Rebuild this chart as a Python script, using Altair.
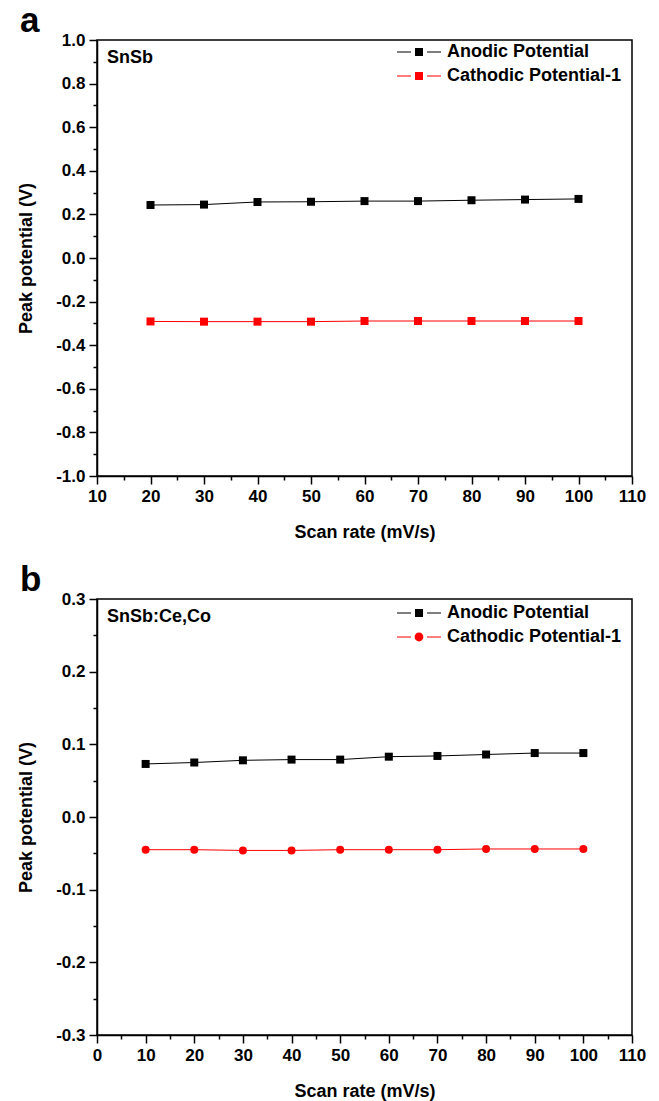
import altair as alt
import pandas as pd

FONT = "Liberation Sans"

series = ["Anodic Potential", "Cathodic Potential-1"]
series_colors = ["black", "red"]

# Panel a (SnSb)
a_rate = [20, 30, 40, 50, 60, 70, 80, 90, 100]
a_anodic = [0.243, 0.245, 0.257, 0.258, 0.261, 0.261, 0.265, 0.268, 0.271]
a_cathodic = [-0.291, -0.292, -0.292, -0.292, -0.289, -0.289, -0.289, -0.289, -0.289]

# Panel b (SnSb:Ce,Co)
b_rate = [10, 20, 30, 40, 50, 60, 70, 80, 90, 100]
b_anodic = [0.073, 0.075, 0.078, 0.079, 0.079, 0.083, 0.084, 0.086, 0.088, 0.088]
b_cathodic = [-0.045, -0.045, -0.046, -0.046, -0.045, -0.045, -0.045, -0.044, -0.044, -0.044]

# Tick positions (major + minor)
a_xticks = [10, 15, 20, 25, 30, 35, 40, 45, 50, 55, 60, 65, 70, 75, 80, 85, 90, 95, 100, 105, 110]
a_yticks = [-1.0, -0.9, -0.8, -0.7, -0.6, -0.5, -0.4, -0.3, -0.2, -0.1, 0.0,
            0.1, 0.2, 0.3, 0.4, 0.5, 0.6, 0.7, 0.8, 0.9, 1.0]
b_xticks = [0, 5, 10, 15, 20, 25, 30, 35, 40, 45, 50, 55, 60, 65, 70, 75, 80, 85, 90, 95, 100, 105, 110]
b_yticks = [-0.3, -0.25, -0.2, -0.15, -0.1, -0.05, 0.0, 0.05, 0.1, 0.15, 0.2, 0.25, 0.3]

# legend symbols: line - marker - line, drawn with fill only (1 unit = 4 px)
SQUARE_SYM = ("M-5.5,-0.14H-2V0.14H-5.5Z"
              "M-1,-1H1V1H-1Z"
              "M2,-0.14H5.5V0.14H2Z")
CIRCLE_SYM = ("M-5.5,-0.14H-2V0.14H-5.5Z"
              "M-1.1,0A1.1,1.1,0,1,0,1.1,0A1.1,1.1,0,1,0,-1.1,0Z"
              "M2,-0.14H5.5V0.14H2Z")

W, H = 535, 436


def panel(rate, anodic, cathodic, xdomain, xticks, ydomain, yticks, ymajor_test,
          cath_shape, cath_sym, sample, letter, legend_y):
    n = len(rate)
    df = pd.DataFrame({
        "rate": rate + rate,
        "value": anodic + cathodic,
        "series": [series[0]] * n + [series[1]] * n,
    })
    xmajor = "datum.value % 10 === 0"
    x = alt.X("rate:Q",
              scale=alt.Scale(domain=xdomain, nice=False, zero=False),
              axis=alt.Axis(values=xticks, title="Scan rate (mV/s)",
                            tickSize={"condition": {"test": xmajor, "value": 8}, "value": 4},
                            labelExpr=xmajor + " ? datum.label : ''",
                            labelOverlap=False, labelFlush=False, labelPadding=4,
                            titleY=47))
    y = alt.Y("value:Q",
              scale=alt.Scale(domain=ydomain, nice=False, zero=False),
              axis=alt.Axis(values=yticks, title="Peak potential (V)", format=".1f",
                            tickSize={"condition": {"test": ymajor_test, "value": 8}, "value": 4},
                            labelExpr=ymajor_test + " ? replace(datum.label, '\u2212', '-') : ''",
                            labelOverlap=False, labelFlush=False, labelPadding=4,
                            titleX=-62))
    is_anodic = "datum.value === 'Anodic Potential'"
    legend = alt.Legend(
        orient="none", legendX=313, legendY=legend_y, direction="vertical", title=None,
        padding=0, labelFont=FONT, labelFontSize=18, labelFontWeight="bold",
        labelColor="black", labelLimit=400, labelOffset=19, rowPadding=6,
        symbolSize=64, symbolStrokeWidth=0, symbolOpacity=1,
        symbolType=alt.ExprRef(expr=f"{is_anodic} ? '{SQUARE_SYM}' : '{cath_sym}'"),
        symbolFillColor=alt.ExprRef(expr=f"{is_anodic} ? 'black' : 'red'"),
        symbolStrokeColor=alt.ExprRef(expr=f"{is_anodic} ? 'black' : 'red'"),
    )
    lines = alt.Chart(df).mark_line(strokeWidth=1).encode(
        x=x, y=y,
        color=alt.Color("series:N", scale=alt.Scale(domain=series, range=series_colors),
                        legend=legend),
        order="rate:Q")
    is_anodic_row = f"datum.series === '{series[0]}'"
    points = alt.Chart(df).mark_point(filled=True, size=64, opacity=1).encode(
        x=x, y=y,
        fill=alt.condition(is_anodic_row, alt.value(series_colors[0]), alt.value(series_colors[1])),
        shape=alt.condition(is_anodic_row, alt.value("square"), alt.value(cath_shape)))
    sample_txt = alt.Chart(pd.DataFrame({"t": [sample]})).mark_text(
        align="left", baseline="middle", font=FONT, fontSize=18, fontWeight="bold",
        color="black").encode(x=alt.value(10), y=alt.value(18), text="t:N")
    letter_txt = alt.Chart(pd.DataFrame({"t": [letter]})).mark_text(
        align="left", baseline="alphabetic", font=FONT, fontSize=35, fontWeight="bold",
        color="black").encode(x=alt.value(-77), y=alt.value(-8), text="t:N")
    return alt.layer(lines, points, sample_txt, letter_txt).properties(width=W, height=H)


pa = panel(a_rate, a_anodic, a_cathodic, [10, 110], a_xticks, [-1.0, 1.0], a_yticks,
           "abs(round(datum.value*10)) % 2 === 0", "square", SQUARE_SYM, "SnSb", "a", 3)
pb = panel(b_rate, b_anodic, b_cathodic, [0, 110], b_xticks, [-0.3, 0.3], b_yticks,
           "round(datum.value*100) % 10 === 0", "circle", CIRCLE_SYM, "SnSb:Ce,Co", "b", 5)

chart = alt.vconcat(pa, pb, spacing=20).resolve_scale(
    color="independent", x="independent", y="independent"
).resolve_legend(color="independent").configure(
    font=FONT
).configure_view(
    stroke="black", strokeWidth=1.5
).configure_axis(
    grid=False, domainColor="black", domainWidth=1.5, tickColor="black", tickWidth=1.5,
    labelFont=FONT, labelFontSize=17, labelFontWeight="bold", labelColor="black",
    titleFont=FONT, titleFontSize=18, titleFontWeight="bold", titleColor="black"
).properties(
    padding={"left": 16, "top": 3, "right": 5, "bottom": 5}, background="white"
)

chart.save("out.html", embed_options={"renderer": "svg", "actions": False})
